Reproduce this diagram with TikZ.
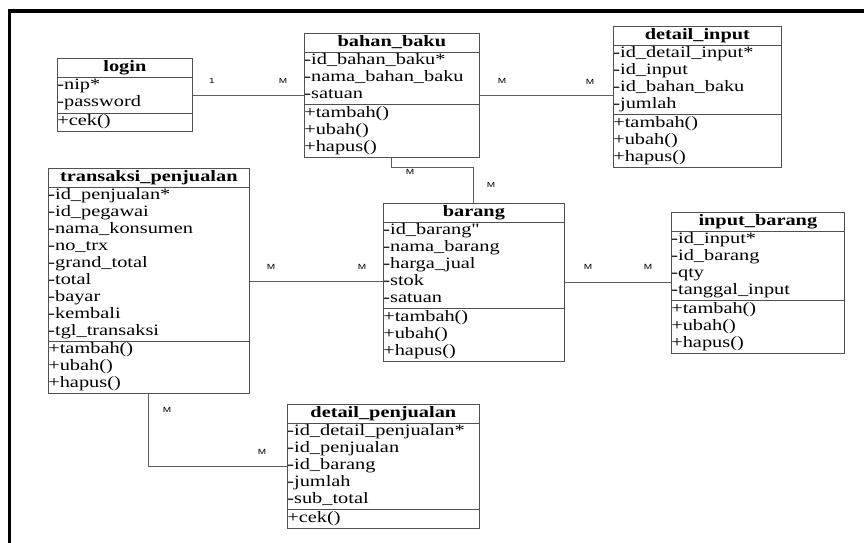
\documentclass[tikz,border=0pt]{standalone}
\usepackage{fontspec}
\setmainfont{Liberation Serif}[FakeStretch=1.28]
\newfontfamily\cardfont{Liberation Sans}[FakeStretch=1.35]
\usetikzlibrary{shapes.multipart}
\definecolor{umlline}{RGB}{80,80,80}
\definecolor{umllink}{RGB}{95,95,95}
% one strut-high row per entry
\newcommand{\members}[1]{\begin{tabular}{@{}l@{}}#1\end{tabular}}

\begin{document}
\begin{tikzpicture}[
  x=0.025cm, y=-0.025cm,
  umlclass/.style={rectangle split, rectangle split parts=3, rectangle split part align={center,left,left}, draw=umlline, line width=0.5pt, anchor=north west, inner xsep=0pt, inner ysep=0.15mm, font=\fontsize{11.3}{12.02}\selectfont},
  link/.style={draw=umllink, line width=0.6pt},
  card/.style={font=\cardfont\fontsize{5.3}{6}\selectfont, inner sep=0pt}
]

\useasboundingbox (0,0) rectangle (864,543);

% Outer frame
\draw[line width=2.2pt] (864,11) -- (9.5,11) -- (9.5,543);

% Top row
\node[umlclass, minimum width=135*0.025cm] (login) at (57,58)
  {\members{\textbf{login}}
   \nodepart{second}\members{-nip*\\-password}
   \nodepart{third}\members{+cek()}};
\node[umlclass, minimum width=175*0.025cm] (bahanbaku) at (304,33)
  {\members{\textbf{bahan\_baku}}
   \nodepart{second}\members{-id\_bahan\_baku*\\-nama\_bahan\_baku\\-satuan}
   \nodepart{third}\members{+tambah()\\+ubah()\\+hapus()}};
\node[umlclass, minimum width=168*0.025cm] (detailinput) at (613,26)
  {\members{\textbf{detail\_input}}
   \nodepart{second}\members{-id\_detail\_input*\\-id\_input\\-id\_bahan\_baku\\-jumlah}
   \nodepart{third}\members{+tambah()\\+ubah()\\+hapus()}};

% Middle row
\node[umlclass, minimum width=201*0.025cm] (transaksi) at (48,168)
  {\members{\textbf{transaksi\_penjualan}}
   \nodepart{second}\members{-id\_penjualan*\\-id\_pegawai\\-nama\_konsumen\\-no\_trx\\-grand\_total\\-total\\-bayar\\-kembali\\-tgl\_transaksi}
   \nodepart{third}\members{+tambah()\\+ubah()\\+hapus()}};
\node[umlclass, minimum width=181*0.025cm] (barang) at (383,203)
  {\members{\textbf{barang}}
   \nodepart{second}\members{-id\_barang\textquotedbl\\-nama\_barang\\-harga\_jual\\-stok\\-satuan}
   \nodepart{third}\members{+tambah()\\+ubah()\\+hapus()}};
\node[umlclass, minimum width=173*0.025cm] (inputbarang) at (671,212)
  {\members{\textbf{input\_barang}}
   \nodepart{second}\members{-id\_input*\\-id\_barang\\-qty\\-tanggal\_input}
   \nodepart{third}\members{+tambah()\\+ubah()\\+hapus()}};

% Bottom row
\node[umlclass, minimum width=192*0.025cm] (detailpenjualan) at (287,404)
  {\members{\textbf{detail\_penjualan}}
   \nodepart{second}\members{-id\_detail\_penjualan*\\-id\_penjualan\\-id\_barang\\-jumlah\\-sub\_total}
   \nodepart{third}\members{+cek()}};

% Relations
\draw[link] (login.east) -- (login.east -| bahanbaku.west);
\draw[link] (bahanbaku.east) -- (bahanbaku.east -| detailinput.west);
\draw[link] (bahanbaku.south) -- ++(0,10) -| (barang.north);
\draw[link] (transaksi.east) -- (transaksi.east -| barang.west);
\draw[link] (barang.east) -- (barang.east -| inputbarang.west);
\draw[link] (transaksi.south) |- (detailpenjualan.west);

% Multiplicities
\node[card] (m1) at (212,81) {1};
\node[card] (m2) at (283,81) {M};
\node[card] (m3) at (502,81) {M};
\node[card] (m4) at (590,82) {M};
\node[card] (m5) at (410,172) {M};
\node[card] (m6) at (491,185) {M};
\node[card] (m7) at (271,267) {M};
\node[card] (m8) at (362,267) {M};
\node[card] (m9) at (588,267) {M};
\node[card] (m10) at (648,267) {M};
\node[card] (m11) at (167,410) {M};
\node[card] (m12) at (262,452) {M};

\end{tikzpicture}
\end{document}
